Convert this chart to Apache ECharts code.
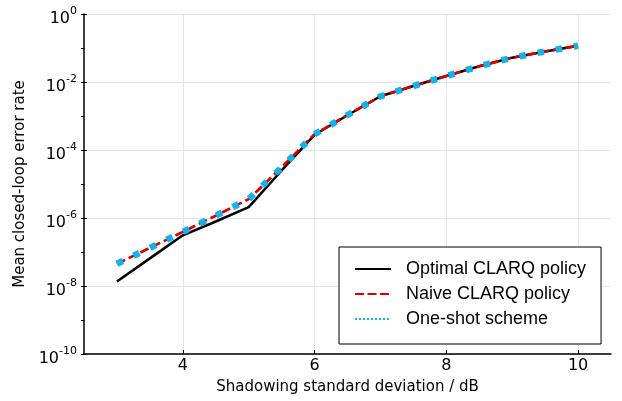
<!DOCTYPE html>
<html>
<head>
<meta charset="utf-8">
<script src="https://cdn.jsdelivr.net/npm/echarts@6/dist/echarts.min.js"></script>
<style>html,body{margin:0;padding:0;background:#fff}#c{width:622px;height:401px}</style>
</head>
<body>
<div id="c"></div>
<script>
// Shadowing standard deviation (dB)
const sigma = [3, 3.5, 4, 4.5, 5, 5.5, 6, 6.5, 7, 7.5, 8, 8.5, 9, 9.5, 10];
// Mean closed-loop error rate
const optimalCLARQ = [1.35e-8, 6.5e-8, 3.1e-7, 7.9e-7, 2.1e-6, 2.5e-5, 2.8e-4, 1.05e-3, 3.8e-3, 7.6e-3, 1.5e-2, 2.9e-2, 5.2e-2, 7.9e-2, 0.116];
const naiveCLARQ   = [4.5e-8, 1.32e-7, 3.9e-7, 1.17e-6, 3.6e-6, 3.1e-5, 2.9e-4, 1.07e-3, 3.8e-3, 7.6e-3, 1.5e-2, 2.9e-2, 5.2e-2, 7.9e-2, 0.116];
const oneShot      = [4.5e-8, 1.32e-7, 3.9e-7, 1.17e-6, 3.6e-6, 3.1e-5, 2.9e-4, 1.07e-3, 3.8e-3, 7.6e-3, 1.5e-2, 2.9e-2, 5.2e-2, 7.9e-2, 0.116];
const xTicks = [4, 6, 8, 10];
const names = ['Optimal CLARQ policy', 'Naive CLARQ policy', 'One-shot scheme'];

const pairs = ys => sigma.map((x, i) => [x, ys[i]]);
const chart = echarts.init(document.getElementById('c'), null, {renderer: 'canvas'});
const tickFont = 'DejaVu Sans';
const hiddenSym = {opacity: 0, color: 'rgba(0,0,0,0)', borderWidth: 0};
chart.setOption({
  animation: false,
  backgroundColor: '#fff',
  grid: {left: 84, right: 11, top: 14, bottom: 47, containLabel: false},
  xAxis: {
    type: 'value', min: 2.5, max: 10.5, minInterval: 2, maxInterval: 2,
    name: 'Shadowing standard deviation / dB', nameLocation: 'middle', nameGap: 26,
    nameTextStyle: {fontFamily: tickFont, fontSize: 15, color: '#000'},
    axisLine: {show: true, onZero: false, lineStyle: {color: '#000', width: 1.5}},
    axisTick: {show: true, inside: true, length: 4, customValues: xTicks, lineStyle: {color: '#000'}},
    axisLabel: {customValues: xTicks, margin: 4, fontFamily: tickFont, fontSize: 16, color: '#000'},
    splitLine: {show: true, lineStyle: {color: '#e6e6e6', width: 1}}
  },
  yAxis: [{
    type: 'log', logBase: 10, min: 1e-10, max: 1, interval: 2,
    name: 'Mean closed-loop error rate', nameLocation: 'middle', nameGap: 51,
    nameTextStyle: {fontFamily: tickFont, fontSize: 15, color: '#000'},
    axisLine: {show: true, lineStyle: {color: '#000', width: 1.5}},
    axisTick: {show: true, inside: true, length: 3, lineStyle: {color: '#000'}},
    axisLabel: {
      margin: 7,
      formatter: v => '{b|10}{s|' + Math.round(Math.log10(v)) + '}',
      rich: {
        b: {fontFamily: tickFont, fontSize: 16, color: '#000', padding: [10, 0, 0, 0]},
        s: {fontFamily: tickFont, fontSize: 11, color: '#000', padding: [0, 0, 5, 0]}
      }
    },
    splitLine: {show: true, lineStyle: {color: '#e6e6e6', width: 1}}
  }, {
    type: 'log', logBase: 10, min: 1e-10, max: 1, interval: 1, position: 'left',
    axisLine: {show: false}, axisLabel: {show: false}, splitLine: {show: false},
    axisTick: {show: true, inside: false, length: 3, lineStyle: {color: '#000'}}
  }],
  legend: {
    orient: 'vertical', left: 339, top: 247,
    backgroundColor: '#fff', borderColor: '#000', borderWidth: 1, borderRadius: 0,
    padding: [12, 15, 15, 15], itemGap: 5, itemWidth: 36, itemHeight: 14,
    textStyle: {fontFamily: 'Liberation Sans', fontSize: 18, color: '#000', lineHeight: 20, padding: [0, 0, 0, 10]},
    data: [
      {name: names[0], itemStyle: hiddenSym, lineStyle: {width: 2, type: 'solid'}},
      {name: names[1], itemStyle: hiddenSym, lineStyle: {width: 2, type: [9, 3.5]}},
      {name: names[2], itemStyle: hiddenSym, lineStyle: {width: 2, type: [2, 2]}}
    ]
  },
  series: [
    {name: names[0], type: 'line', data: pairs(optimalCLARQ), symbol: 'none',
     lineStyle: {color: '#000', width: 2.5}, itemStyle: {color: '#000'}},
    {name: names[1], type: 'line', data: pairs(naiveCLARQ), symbol: 'none',
     lineStyle: {color: '#dd0000', width: 2.7, type: [9, 4], cap: 'butt'}, itemStyle: {color: '#dd0000'}},
    {name: names[2], type: 'line', data: pairs(oneShot), symbol: 'none',
     lineStyle: {color: '#0fb4ee', width: 6.5, type: [6.5, 11.9], cap: 'butt'}, itemStyle: {color: '#0fb4ee'}}
  ]
});
</script>
</body>
</html>
